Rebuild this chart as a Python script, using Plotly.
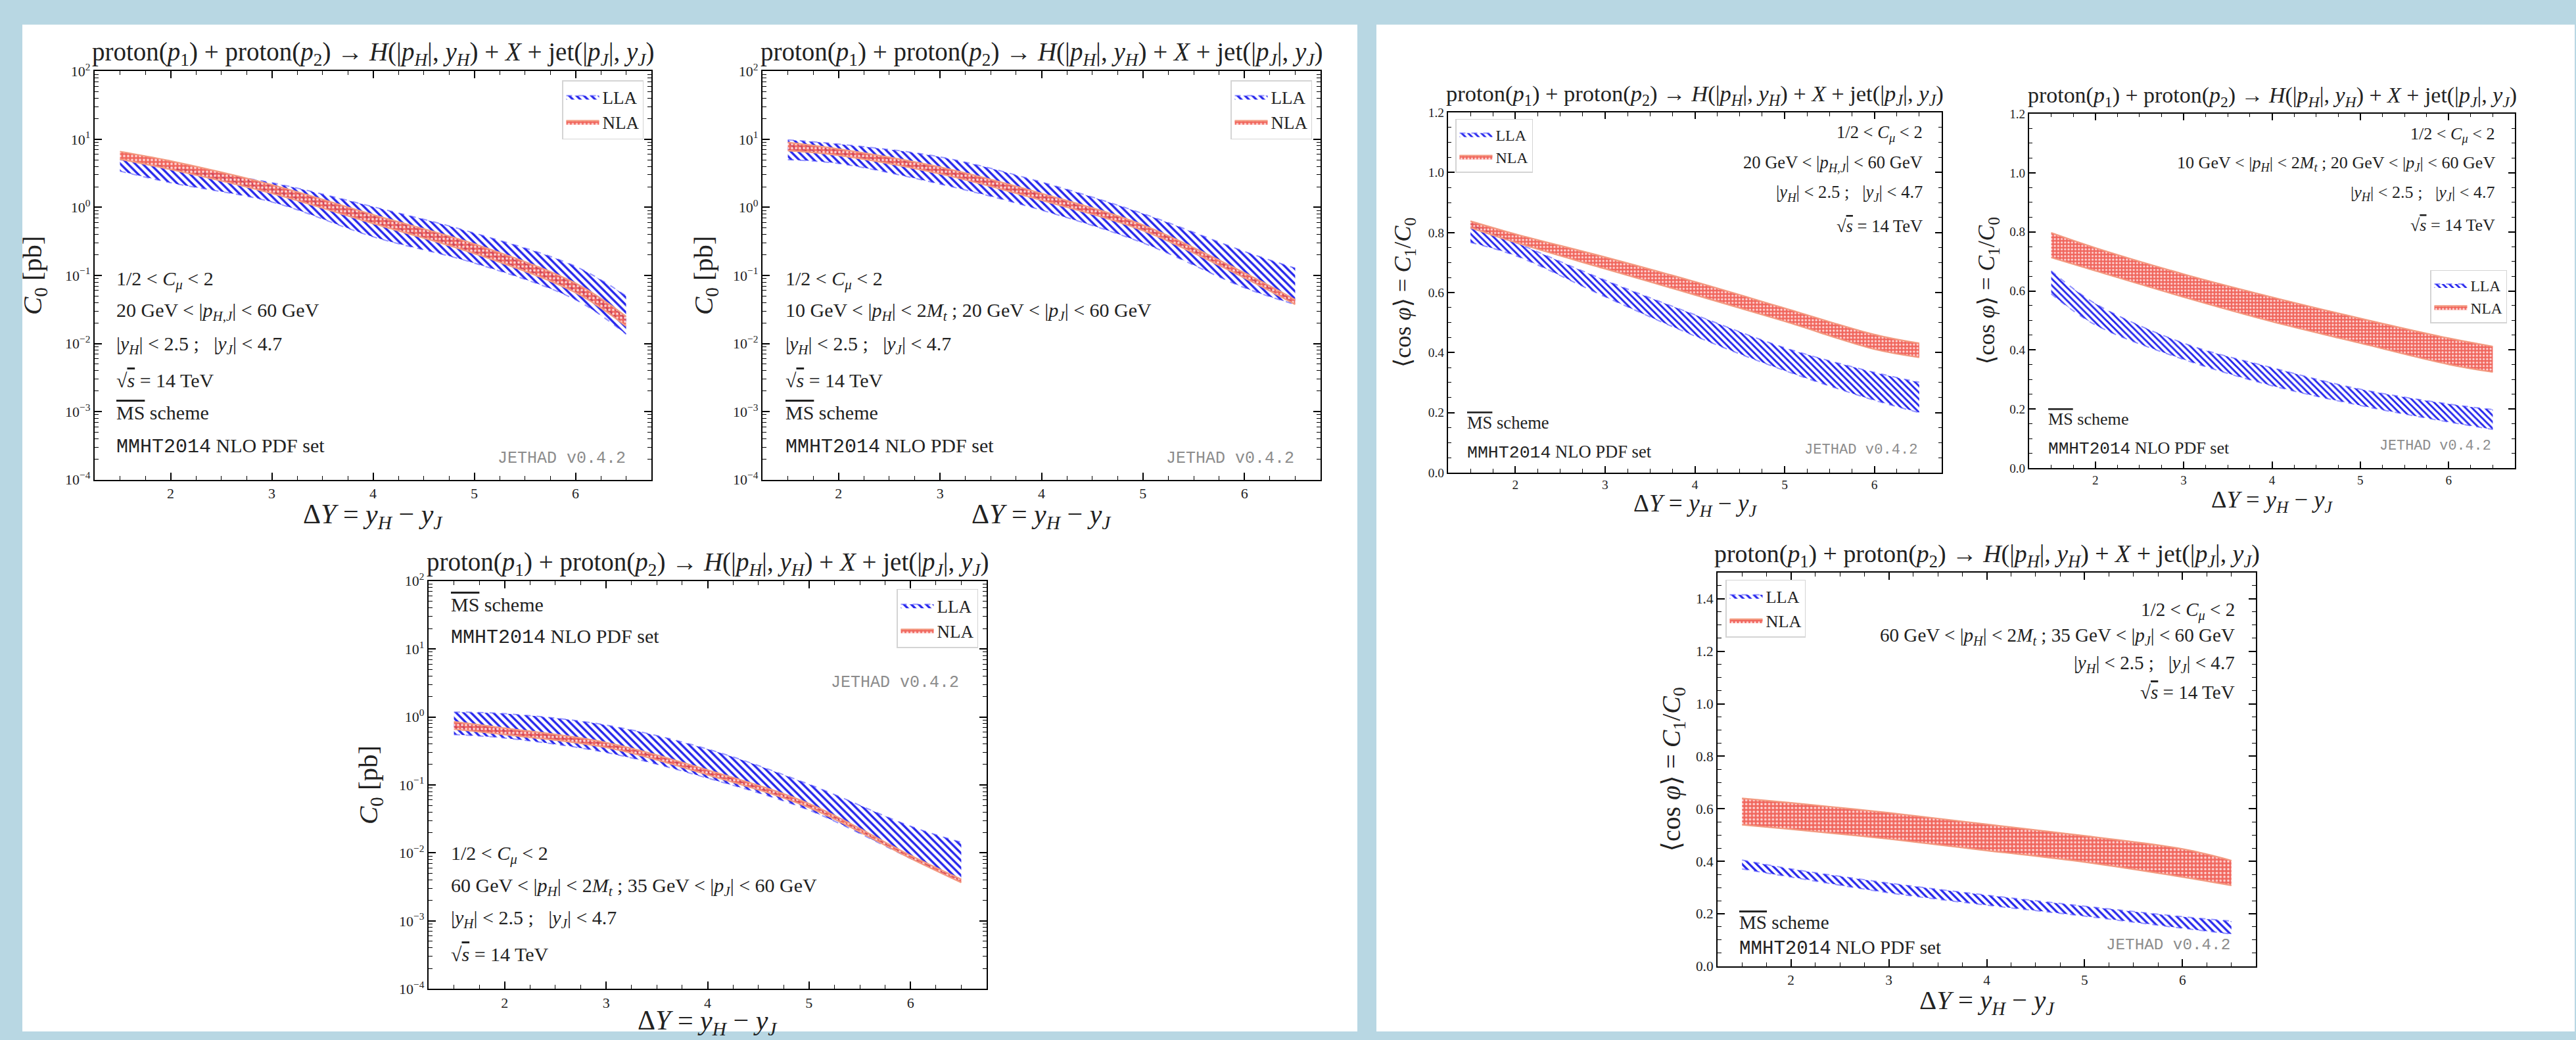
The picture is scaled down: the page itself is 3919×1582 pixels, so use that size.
import plotly.graph_objects as go

W, H = 3919, 1582
FONT = "Liberation Serif, DejaVu Serif, serif"
MONO = "Liberation Mono, DejaVu Sans Mono, monospace"
BG = "#b8d7e3"

# ---------------- data ----------------
dY = [1.5, 2, 3, 4, 5, 6, 6.5]
x_ticks = [2, 3, 4, 5, 6]
log_ticks = [1e-4, 1e-3, 1e-2, 1e-1, 1e0, 1e1, 1e2]
log_tick_text = ["10<sup>−4</sup>", "10<sup>−3</sup>", "10<sup>−2</sup>", "10<sup>−1</sup>",
                 "10<sup>0</sup>", "10<sup>1</sup>", "10<sup>2</sup>"]
cos_ticks_12 = [0.0, 0.2, 0.4, 0.6, 0.8, 1.0, 1.2]
cos_ticks_14 = [0.0, 0.2, 0.4, 0.6, 0.8, 1.0, 1.2, 1.4]

# C0 [pb], 20 GeV < |p_H,J| < 60 GeV
A_lla_up = [5.0, 3.9, 2.3, 1.02, 0.42, 0.136, 0.050]
A_lla_lo = [3.4, 2.3, 1.2, 0.37, 0.152, 0.044, 0.0137]
A_nla_up = [6.6, 4.8, 2.15, 0.78, 0.29, 0.077, 0.025]
A_nla_lo = [5.1, 3.6, 1.6, 0.58, 0.21, 0.056, 0.018]
# C0 [pb], 10 GeV < |p_H| < 2M_t ; 20 GeV < |p_J| < 60 GeV
B_lla_up = [9.8, 8.5, 5.5, 2.35, 0.81, 0.225, 0.128]
B_lla_lo = [5.0, 4.4, 2.2, 0.91, 0.30, 0.066, 0.0375]
B_nla_up = [9.0, 7.2, 3.9, 1.6, 0.55, 0.109, 0.044]
B_nla_lo = [6.8, 5.8, 3.1, 1.27, 0.455, 0.092, 0.0375]
# C0 [pb], 60 GeV < |p_H| < 2M_t ; 35 GeV < |p_J| < 60 GeV
C_lla_up = [1.18, 1.12, 0.76, 0.337, 0.102, 0.0247, 0.0143]
C_lla_lo = [0.55, 0.49, 0.30, 0.126, 0.0425, 0.0083, 0.00386]
C_nla_up = [0.85, 0.685, 0.42, 0.166, 0.053, 0.0092, 0.0041]
C_nla_lo = [0.66, 0.55, 0.356, 0.141, 0.0465, 0.0083, 0.00366]
# <cos phi>, 20 GeV < |p_H,J| < 60 GeV
D_lla_up = [0.83, 0.767, 0.641, 0.526, 0.416, 0.334, 0.301]
D_lla_lo = [0.767, 0.723, 0.586, 0.455, 0.34, 0.241, 0.2]
D_nla_up = [0.838, 0.795, 0.718, 0.636, 0.548, 0.46, 0.431]
D_nla_lo = [0.816, 0.767, 0.679, 0.592, 0.504, 0.411, 0.384]
# <cos phi>, 10 GeV < |p_H| < 2M_t ; 20 GeV < |p_J| < 60 GeV
E_lla_up = [0.668, 0.557, 0.423, 0.34, 0.267, 0.217, 0.198]
E_lla_lo = [0.59, 0.485, 0.368, 0.279, 0.212, 0.156, 0.131]
E_nla_up = [0.797, 0.746, 0.657, 0.579, 0.507, 0.44, 0.412]
E_nla_lo = [0.713, 0.668, 0.579, 0.496, 0.423, 0.351, 0.325]
# <cos phi>, 60 GeV < |p_H| < 2M_t ; 35 GeV < |p_J| < 60 GeV
F_lla_up = [0.405, 0.371, 0.317, 0.271, 0.229, 0.189, 0.172]
F_lla_lo = [0.371, 0.34, 0.28, 0.233, 0.191, 0.145, 0.123]
F_nla_up = [0.64, 0.623, 0.585, 0.541, 0.497, 0.447, 0.403]
F_nla_lo = [0.539, 0.522, 0.485, 0.441, 0.397, 0.34, 0.308]

# ---------------- text ----------------
PV = "<i>p</i>"
TITLE = ("proton(<i>p</i><sub>1</sub>) + proton(<i>p</i><sub>2</sub>) → <i>H</i>(|" + PV +
         "<sub><i>H</i></sub>|, <i>y</i><sub><i>H</i></sub>) + <i>X</i> + jet(|" + PV +
         "<sub><i>J</i></sub>|, <i>y</i><sub><i>J</i></sub>)")
XLAB = "Δ<i>Y</i> = <i>y</i><sub><i>H</i></sub> − <i>y</i><sub><i>J</i></sub>"
YLAB_C0 = "<i>C</i><sub>0</sub> [pb]"
YLAB_COS = "⟨cos <i>φ</i>⟩ = <i>C</i><sub>1</sub>/<i>C</i><sub>0</sub>"
T_CMU = "1/2 < <i>C</i><sub><i>μ</i></sub> < 2"
T_P1 = "20 GeV < |" + PV + "<sub><i>H,J</i></sub>| < 60 GeV"
T_P2 = ("10 GeV < |" + PV + "<sub><i>H</i></sub>| < 2<i>M</i><sub><i>t</i></sub> ; 20 GeV < |" +
        PV + "<sub><i>J</i></sub>| < 60 GeV")
T_P3 = ("60 GeV < |" + PV + "<sub><i>H</i></sub>| < 2<i>M</i><sub><i>t</i></sub> ; 35 GeV < |" +
        PV + "<sub><i>J</i></sub>| < 60 GeV")
T_Y = "|<i>y</i><sub><i>H</i></sub>| < 2.5 ;   |<i>y</i><sub><i>J</i></sub>| < 4.7"
T_S = "√<span style='text-decoration:overline'><i>s</i></span> = 14 TeV"
T_MS = "<span style='text-decoration:overline'>MS</span> scheme"
T_PDF = "<span style='font-family:Liberation Mono'>MMHT2014</span> NLO PDF set"
T_JET = "JETHAD v0.4.2"

panels = [
    dict(box=(144, 991, 94, 727), s=1.0, log=True, yr=[-4, 2], yt=log_ticks, ytt=log_tick_text,
         ylab=YLAB_C0, ylx=52, xly=783, lla=(A_lla_lo, A_lla_up), nla=(A_nla_lo, A_nla_up),
         leg=(979, 108, "right"),
         txt=[(T_CMU, 175, 418, "left"), (T_P1, 175, 467, "left"), (T_Y, 175, 519, "left"),
              (T_S, 175, 573, "left"), (T_MS, 175, 623, "left"), (T_PDF, 175, 675, "left")],
         jet=(954, 694)),
    dict(box=(1160, 2009, 94, 727), s=1.0, log=True, yr=[-4, 2], yt=log_ticks, ytt=log_tick_text,
         ylab=YLAB_C0, ylx=1073, xly=783, lla=(B_lla_lo, B_lla_up), nla=(B_nla_lo, B_nla_up),
         leg=(1996, 108, "right"),
         txt=[(T_CMU, 1193, 418, "left"), (T_P2, 1193, 467, "left"), (T_Y, 1193, 519, "left"),
              (T_S, 1193, 573, "left"), (T_MS, 1193, 623, "left"), (T_PDF, 1193, 675, "left")],
         jet=(1971, 694)),
    dict(box=(652, 1501, 884, 1516), s=1.0, log=True, yr=[-4, 2], yt=log_ticks, ytt=log_tick_text,
         ylab=YLAB_C0, ylx=563, xly=1568, lla=(C_lla_lo, C_lla_up), nla=(C_nla_lo, C_nla_up),
         leg=(1488, 896, "right"),
         txt=[(T_MS, 684, 920, "left"), (T_PDF, 684, 971, "left"),
              (T_CMU, 684, 1308, "left"), (T_P3, 684, 1358, "left"), (T_Y, 684, 1408, "left"),
              (T_S, 684, 1462, "left")],
         jet=(1461, 1042)),
    dict(box=(2203, 2954, 158, 716), s=0.885, log=False, yr=[0, 1.2], yt=cos_ticks_12,
         ytt=["%.1f" % v for v in cos_ticks_12],
         ylab=YLAB_COS, ylx=2137, xly=767, lla=(D_lla_lo, D_lla_up), nla=(D_nla_lo, D_nla_up),
         leg=(2214, 168, "left"),
         txt=[(T_CMU, 2927, 191, "right"), (T_P1, 2927, 237, "right"), (T_Y, 2927, 283, "right"),
              (T_S, 2927, 334, "right"), (T_MS, 2230, 639, "left"), (T_PDF, 2230, 685, "left")],
         jet=(2919, 681)),
    dict(box=(3087, 3826, 160, 709), s=0.87, log=False, yr=[0, 1.2], yt=cos_ticks_12,
         ytt=["%.1f" % v for v in cos_ticks_12],
         ylab=YLAB_COS, ylx=3024, xly=760, lla=(E_lla_lo, E_lla_up), nla=(E_nla_lo, E_nla_up),
         leg=(3814, 402, "right"),
         txt=[(T_CMU, 3798, 193, "right"), (T_P2, 3798, 237, "right"), (T_Y, 3798, 283, "right"),
              (T_S, 3798, 333, "right"), (T_MS, 3114, 633, "left"), (T_PDF, 3114, 679, "left")],
         jet=(3792, 675)),
    dict(box=(2613, 3432, 871, 1481), s=0.97, log=False, yr=[0, 1.5], yt=cos_ticks_14,
         ytt=["%.1f" % v for v in cos_ticks_14],
         ylab=YLAB_COS, ylx=2545, xly=1537, lla=(F_lla_lo, F_lla_up), nla=(F_nla_lo, F_nla_up),
         leg=(2625, 882, "left"),
         txt=[(T_CMU, 3402, 931, "right"), (T_P3, 3402, 970, "right"), (T_Y, 3402, 1013, "right"),
              (T_S, 3402, 1056, "right"), (T_MS, 2644, 1413, "left"), (T_PDF, 2644, 1453, "left")],
         jet=(3395, 1448)),
]


def fx(v):
    return v / W


def fy(v):
    return 1 - v / H


fig = go.Figure()
annotations = []
layout = dict(
    width=W, height=H, autosize=False,
    margin=dict(l=0, r=0, t=0, b=0),
    paper_bgcolor=BG, plot_bgcolor="white",
    showlegend=True,
    shapes=[
        dict(type="rect", xref="paper", yref="paper", x0=fx(34), x1=fx(2065), y0=0, y1=fy(22),
             fillcolor="white", line=dict(width=0), layer="below"),
        dict(type="rect", xref="paper", yref="paper", x0=fx(2094), x1=fx(3917), y0=0, y1=fy(22),
             fillcolor="white", line=dict(width=0), layer="below"),
    ],
)

log_minor = [k * 10 ** n for n in range(-4, 2) for k in range(2, 10)]

for i, p in enumerate(panels, start=1):
    s = p["s"]
    l, r, t, b = p["box"]
    sfx = "" if i == 1 else str(i)
    xa, ya = "x" + sfx, "y" + sfx
    lg = "legend" + sfx

    if p["log"]:
        minor = dict(ticks="inside", ticklen=6 * s, tickwidth=1.3, tickcolor="black",
                     tickvals=log_minor, showgrid=False)
    else:
        minor = dict(ticks="inside", ticklen=6 * s, tickwidth=1.3, tickcolor="black",
                     dtick=0.05, tick0=0, showgrid=False)

    layout["xaxis" + sfx] = dict(
        domain=[fx(l), fx(r)], anchor=ya, range=[1.25, 6.75], tickmode="array",
        tickvals=x_ticks, ticktext=[str(v) for v in x_ticks],
        ticks="inside", ticklen=11 * s, tickwidth=1.6, tickcolor="black",
        showline=True, linecolor="black", linewidth=2.2, mirror="ticks",
        showgrid=False, zeroline=False,
        tickfont=dict(family=FONT, size=22 * s, color="#222"),
        minor=dict(ticks="inside", ticklen=6 * s, tickwidth=1.3, tickcolor="black",
                   dtick=0.25, tick0=0, showgrid=False),
    )
    layout["yaxis" + sfx] = dict(
        domain=[fy(b), fy(t)], anchor=xa, type="log" if p["log"] else "linear",
        range=p["yr"], tickmode="array", tickvals=p["yt"], ticktext=p["ytt"],
        ticks="inside", ticklen=11 * s, tickwidth=1.6, tickcolor="black",
        showline=True, linecolor="black", linewidth=2.2, mirror="ticks",
        showgrid=False, zeroline=False,
        tickfont=dict(family=FONT, size=22 * s, color="#222"),
        minor=minor,
    )
    lx, ly, lanchor = p["leg"]
    layout[lg] = dict(
        x=fx(lx), y=fy(ly), xanchor=lanchor, yanchor="top", xref="paper", yref="paper",
        bgcolor="white", bordercolor="#d4d4d4", borderwidth=1.5, traceorder="normal",
        font=dict(family=FONT, size=27 * s, color="#222"),
        itemwidth=50, tracegroupgap=0,
    )

    lo, up = p["lla"]
    fig.add_trace(go.Scatter(x=dY, y=lo, xaxis=xa, yaxis=ya, mode="lines",
                             line=dict(color="rgba(70,70,255,0.55)", width=2, dash="dash",
                                       shape="spline", smoothing=1.0),
                             showlegend=False, legend=lg, hoverinfo="skip"))
    fig.add_trace(go.Scatter(x=dY, y=up, xaxis=xa, yaxis=ya, mode="lines", fill="tonexty",
                             fillcolor="rgba(255,255,255,0)",
                             fillpattern=dict(shape="\\", fgcolor="rgba(25,25,235,0.95)",
                                              bgcolor="rgba(255,255,255,0.25)", size=8 * s,
                                              solidity=0.42, fillmode="replace"),
                             line=dict(color="rgba(70,70,255,0.55)", width=2, dash="dash",
                                       shape="spline", smoothing=1.0),
                             name="LLA", legend=lg, hoverinfo="skip"))
    lo, up = p["nla"]
    fig.add_trace(go.Scatter(x=dY, y=lo, xaxis=xa, yaxis=ya, mode="lines",
                             line=dict(color="#f39a80", width=2.2, shape="spline", smoothing=1.0),
                             showlegend=False, legend=lg, hoverinfo="skip"))
    fig.add_trace(go.Scatter(x=dY, y=up, xaxis=xa, yaxis=ya, mode="lines", fill="tonexty",
                             fillcolor="rgba(255,255,255,0)",
                             fillpattern=dict(shape=".", fgcolor="rgba(255,225,225,0.95)",
                                              bgcolor="rgba(238,75,65,0.85)", size=6 * s,
                                              solidity=0.3, fillmode="replace"),
                             line=dict(color="#f39a80", width=2.2, shape="spline", smoothing=1.0),
                             name="NLA", legend=lg, hoverinfo="skip"))

    cx = (l + r) / 2
    annotations.append(dict(text=TITLE, x=fx(cx), y=fy(t - 27), xref="paper", yref="paper",
                            xanchor="center", yanchor="middle", showarrow=False,
                            font=dict(family=FONT, size=39 * s, color="#222")))
    annotations.append(dict(text=XLAB, x=fx(cx), y=fy(p["xly"]), xref="paper", yref="paper",
                            xanchor="center", yanchor="middle", showarrow=False,
                            font=dict(family=FONT, size=42 * s, color="#222")))
    annotations.append(dict(text=p["ylab"], x=fx(p["ylx"]), y=fy((t + b) / 2), xref="paper",
                            yref="paper", xanchor="center", yanchor="middle", showarrow=False,
                            textangle=-90, font=dict(family=FONT, size=41 * s, color="#222")))
    for text, tx, ty, al in p["txt"]:
        annotations.append(dict(text=text, x=fx(tx), y=fy(ty), xref="paper", yref="paper",
                                xanchor=al, yanchor="middle", showarrow=False,
                                font=dict(family=FONT, size=30 * s, color="#222")))
    jx, jy = p["jet"]
    annotations.append(dict(text=T_JET, x=fx(jx), y=fy(jy), xref="paper", yref="paper",
                            xanchor="right", yanchor="middle", showarrow=False,
                            font=dict(family=MONO, size=25 * s, color="#8c8c8c")))

layout["annotations"] = annotations
fig.update_layout(**layout)

# remove the default page margin so the figure sits at the window's top-left corner
page_fix = ("document.body.style.margin='0';document.body.style.padding='0';"
            "document.body.style.overflow='hidden';"
            "document.body.style.background='" + BG + "';")
fig.write_html("out.html", post_script=page_fix, config={"displayModeBar": False})
